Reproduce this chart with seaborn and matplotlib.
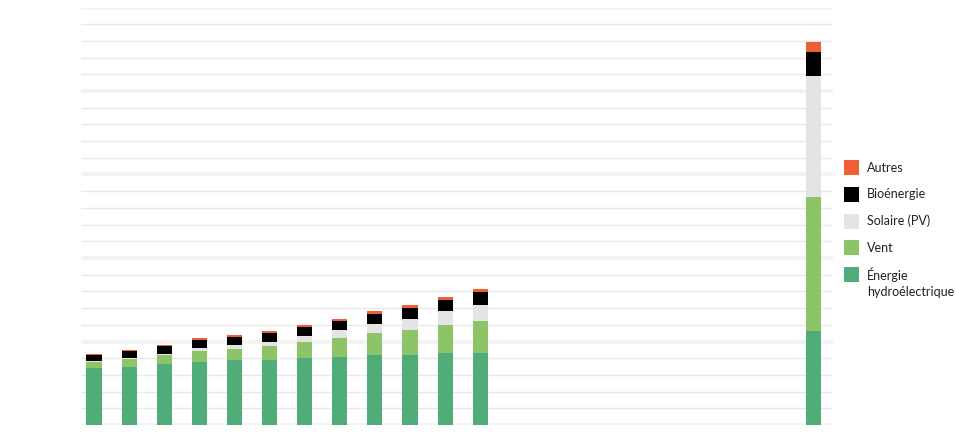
import numpy as np
import pandas as pd
import matplotlib
matplotlib.use("Agg")
import matplotlib.pyplot as plt
from matplotlib.patches import Rectangle
import seaborn as sns

# ---- data ----
years = ["2000", "2001", "2002", "2003", "2004", "2005", "2006",
         "2007", "2008", "2009", "2010", "2011", "2030"]
hydro = [344, 350, 368, 380, 388, 392, 404, 410, 422, 422, 434, 434, 565]
wind = [36, 48, 54, 66, 70, 82, 94, 112, 126, 144, 162, 186, 798]
solar = [2, 3, 6, 14, 20, 24, 34, 44, 58, 68, 84, 98, 727]
bio = [36, 42, 44, 48, 48, 50, 56, 58, 60, 66, 68, 80, 142]
others = [8, 8, 10, 10, 14, 14, 12, 12, 16, 16, 18, 16, 60]

series_names = ["Énergie\nhydroélectrique", "Vent", "Solaire (PV)", "Bioénergie", "Autres"]
series_vals = [hydro, wind, solar, bio, others]
colors = ["#50ad79", "#8dc468", "#e4e4e4", "#000000", "#f05f37"]

# ---- layout ----
x_pos = list(range(len(years) - 1)) + [20.5]
W, H = 956, 442

sns.set_theme(style="white")
plt.rcParams["font.family"] = ["Lato", "DejaVu Sans"]

fig = plt.figure(figsize=(W / 100, H / 100), dpi=100)
ax = fig.add_axes([81 / W, 17 / H, (833 - 81) / W, (425 - 7.5) / H])

cum = np.cumsum(np.array(series_vals), axis=0)
# draw from the top of the stack downwards so each layer covers the one above
for i in range(len(series_vals) - 1, -1, -1):
    df = pd.DataFrame({"x": x_pos, "y": cum[i]})
    sns.barplot(data=df, x="x", y="y", color=colors[i], native_scale=True,
                width=0.43, linewidth=0, errorbar=None, ax=ax, saturation=1)

ax.set_ylim(0, 2500)
ax.set_xlim(-0.37, 21.05)
ax.set_yticks(np.arange(0, 2501, 500))
ax.set_yticks(np.arange(0, 2501, 100), minor=True)
ax.grid(False)
ax.grid(True, which="minor", axis="y", color="#e9e9e9", linewidth=1.0)
ax.grid(True, which="major", axis="y", color="#f2f2f2", linewidth=2.6)
ax.set_axisbelow(True)
ax.tick_params(axis="both", which="both", length=0, labelleft=False, labelbottom=False)
ax.set_xlabel("")
ax.set_ylabel("")
for s in ax.spines.values():
    s.set_visible(False)

# ---- legend (top: Autres ... bottom: hydro) ----
row_y = [167.7, 194.4, 221.1, 247.8, 274.5]
sq = 15
for k, i in enumerate(range(len(series_names) - 1, -1, -1)):
    yc = row_y[k]
    fig.add_artist(Rectangle((844 / W, 1 - (yc + sq / 2) / H), sq / W, sq / H,
                             transform=fig.transFigure, facecolor=colors[i],
                             edgecolor="none"))
    label = series_names[i]
    nlines = label.count("\n") + 1
    ty = yc + (nlines - 1) * 8.5
    fig.text(867 / W, 1 - ty / H, label, fontsize=9, color="#222222",
             va="center", ha="left", linespacing=1.45)

fig.savefig("out.png", dpi=100)
